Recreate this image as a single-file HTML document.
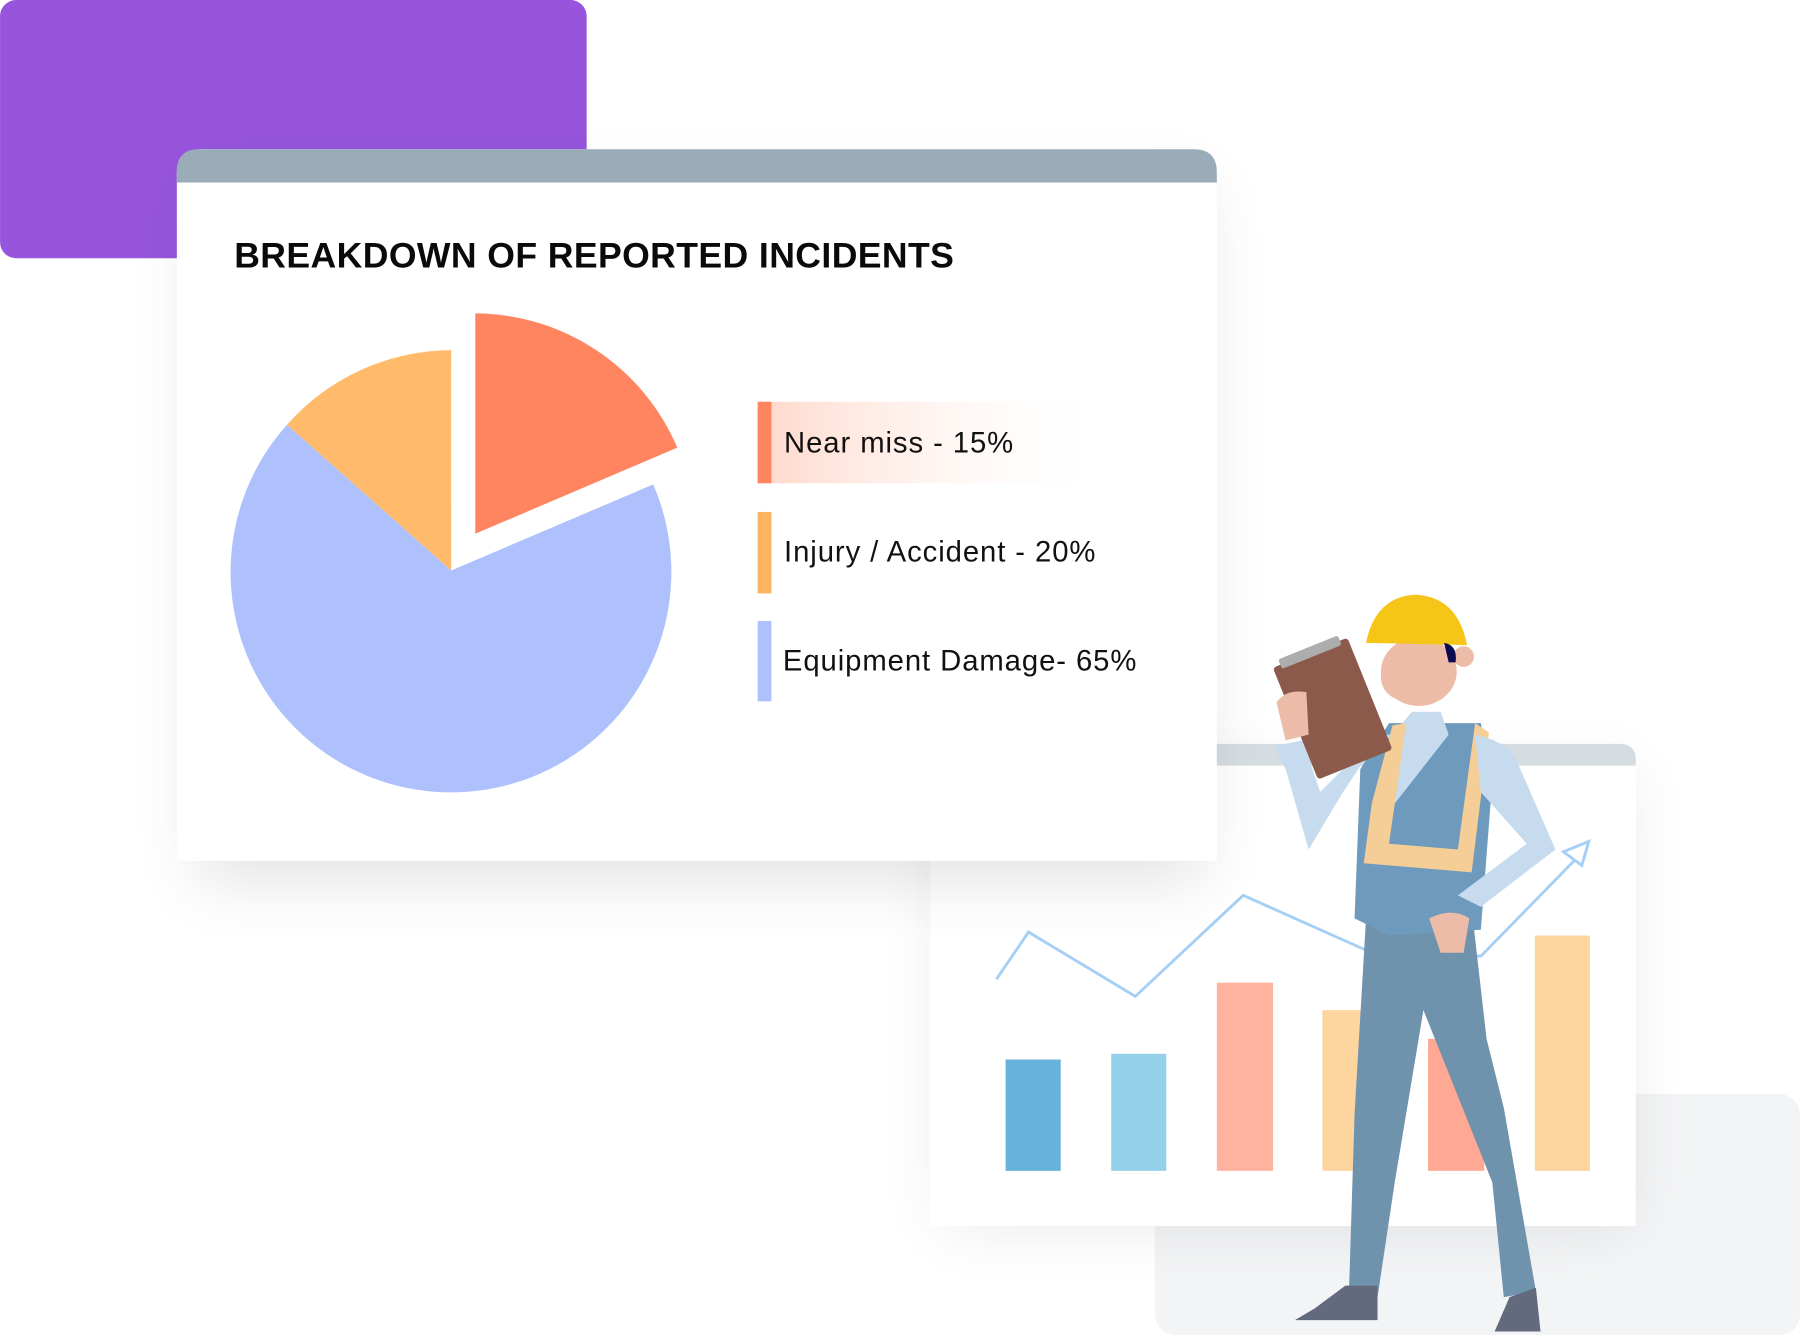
<!DOCTYPE html>
<html><head><meta charset="utf-8"><style>
html,body{margin:0;padding:0;background:#fff;width:1800px;height:1335px;overflow:hidden}
svg{display:block}
text{font-family:"Liberation Sans",sans-serif}
</style></head><body>
<svg width="1800" height="1335" viewBox="0 0 1568 1163" xmlns="http://www.w3.org/2000/svg">
<defs>
<filter id="sh" x="-20%" y="-20%" width="140%" height="150%"><feGaussianBlur stdDeviation="28"/></filter>
<linearGradient id="lg" x1="0" x2="1"><stop offset="0" stop-color="#ffd7c9"/><stop offset="1" stop-color="#fff" stop-opacity="0"/></linearGradient>
</defs>
<rect x="0" y="0" width="511" height="225" rx="14" fill="#9655dc"/>
<rect x="1006" y="953" width="562" height="210" rx="18" fill="#f3f4f5"/>
<rect x="820" y="670" width="600" height="400" fill="#000" opacity="0.08" filter="url(#sh)"/>
<path d="M810 668 Q810 648 830 648 L1411 648 Q1425 648 1425 662 L1425 1068 L810 1068 Z" fill="#fff"/>
<path d="M810 668 Q810 648 830 648 L1411 648 Q1425 648 1425 662 L1425 667 L810 667 Z" fill="#d5dde2"/>
<rect x="876" y="923" width="48" height="97" fill="#66b2da"/>
<rect x="968" y="918" width="48" height="102" fill="#94d0ea"/>
<rect x="1060" y="856" width="49" height="164" fill="#ffb29e"/>
<rect x="1152" y="880" width="48" height="140" fill="#fed49f"/>
<rect x="1244" y="905" width="49" height="115" fill="#ffa995"/>
<rect x="1337" y="815" width="48" height="205" fill="#fed59f"/>
<polyline points="868,853 896,812 989,868 1083,780 1195,830 1290,833 1378,743" fill="none" stroke="#a6cff5" stroke-width="2.5"/>
<path d="M1362 742 L1384 733 L1378 754 Z" fill="#fff" stroke="#a6cff5" stroke-width="2.5"/>
<rect x="170" y="160" width="880" height="610" fill="#000" opacity="0.1" filter="url(#sh)"/>
<path d="M154 150 Q154 130 174 130 L1040 130 Q1060 130 1060 150 L1060 750 L154 750 Z" fill="#fff"/>
<path d="M154 150 Q154 130 174 130 L1040 130 Q1060 130 1060 150 L1060 159 L154 159 Z" fill="#9aacb8"/>
<text x="204" y="233" font-size="31" font-weight="bold" fill="#0a0a0a" letter-spacing="0.35">BREAKDOWN OF REPORTED INCIDENTS</text>
<path d="M393 497 L569 422 A192 192 0 1 1 250 370 Z" fill="#afc1fc"/>
<path d="M393 497 L250 370 A192 192 0 0 1 393 305 Z" fill="#ffbb6b"/>
<path d="M414 465 L414 273 A192 192 0 0 1 590 390 Z" fill="#ff8560"/>
<rect x="660" y="350" width="310" height="71" fill="url(#lg)"/>
<rect x="660" y="350" width="12" height="71" fill="#ff8560"/>
<rect x="660" y="446" width="12" height="71" fill="#fdb45e"/>
<rect x="660" y="541" width="12" height="70" fill="#afc1fc"/>
<text x="683" y="394" font-size="25.5" fill="#111" letter-spacing="0.8">Near miss - 15%</text>
<text x="683" y="489" font-size="25.5" fill="#111" letter-spacing="0.8">Injury / Accident - 20%</text>
<text x="682" y="584" font-size="25.5" fill="#111" letter-spacing="0.8">Equipment Damage- 65%</text>
<g>
<path d="M1190 800 L1180 970 L1175 1130 L1200 1130 L1215 1030 L1240 880 L1300 1030 L1310 1130 L1338 1125 L1310 965 L1295 905 L1283 800 Z" fill="#7093ad"/>
<path d="M1128 1150 L1145 1140 L1172 1120 L1200 1120 L1200 1150 Z" fill="#636a7d"/>
<path d="M1302 1160 L1315 1130 L1338 1122 L1342 1160 Z" fill="#636a7d"/>
<path d="M1210 630 L1185 670 L1180 800 L1210 815 L1290 810 L1300 680 L1290 630 Z" fill="#6e9bbd"/>
<path d="M1230 620 L1255 620 L1262 640 L1215 700 L1213 640 Z" fill="#c7dbee"/>
<path d="M1213 632 L1225 630 L1210 735 L1270 740 L1285 630 L1297 638 L1282 760 L1188 752 L1195 700 Z" fill="#f5cd96"/>
<path d="M1285 640 Q1310 645 1320 660 L1355 740 L1290 790 L1270 780 L1330 735 L1290 690 Z" fill="#c7dbee"/>
<path d="M1213 640 L1190 660 L1170 690 L1140 740 L1120 670 L1110 650 L1135 645 L1150 690 L1200 640 Z" fill="#c7dbee"/>
<path d="M1245 800 Q1265 790 1280 800 L1275 830 L1255 830 Z" fill="#edbca8"/>
<ellipse cx="1236" cy="585" rx="33" ry="30" fill="#edbca8"/>
<rect x="1203" y="565" width="60" height="45" rx="20" fill="#edbca8"/>
<circle cx="1275" cy="572" r="9" fill="#edbca8"/>
<path d="M1190 560 Q1198 520 1233 518 Q1270 520 1278 562 Z" fill="#f5c518"/>
<path d="M1258 560 Q1270 562 1268 577 L1262 577 Z" fill="#0c0a50"/>
<g transform="rotate(-22 1160 615)"><rect x="1125" y="565" width="70" height="105" rx="3" fill="#8b5a4a"/><rect x="1132" y="560" width="56" height="9" rx="2" fill="#adadad"/></g>
<path d="M1112 612 Q1120 600 1138 603 L1140 640 L1120 645 Z" fill="#edbca8"/>
</g>
</svg>
</body></html>
